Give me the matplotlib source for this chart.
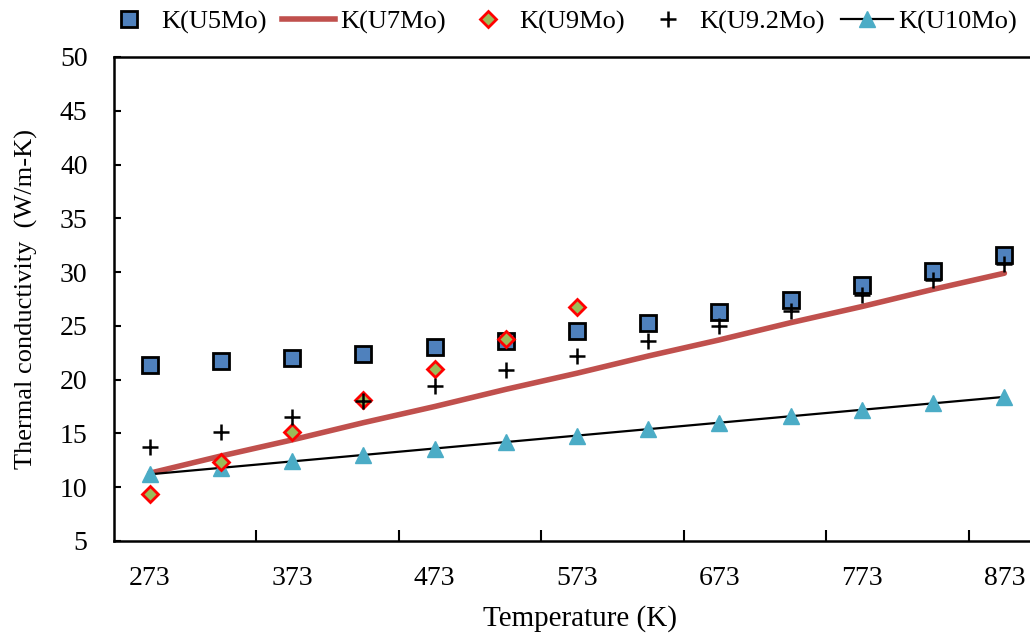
import matplotlib.pyplot as plt
from matplotlib.lines import Line2D

plt.rcParams['font.family'] = ['Liberation Serif', 'DejaVu Serif']

# temperatures (K)
temps = [273, 323, 373, 423, 473, 523, 573, 623, 673, 723, 773, 823, 873]
k_u5mo = [21.4, 21.7, 22.0, 22.4, 23.0, 23.6, 24.5, 25.3, 26.3, 27.4, 28.8, 30.1, 31.6]
k_u7mo = [11.3, 12.9, 14.4, 16.0, 17.5, 19.1, 20.6, 22.2, 23.7, 25.3, 26.8, 28.4, 29.9]
temps_u9 = [273, 323, 373, 423, 473, 523, 573]
k_u9mo = [9.4, 12.3, 15.1, 18.1, 21.0, 23.8, 26.8]
k_u92mo = [13.7, 15.1, 16.5, 18.0, 19.4, 20.9, 22.2, 23.6, 25.0, 26.4, 27.9, 29.3, 30.8]
k_u10mo = [11.2, 11.8, 12.4, 13.0, 13.6, 14.2, 14.8, 15.4, 16.0, 16.6, 17.2, 17.8, 18.4]
xtick_labels = [273, 373, 473, 573, 673, 773, 873]

fig = plt.figure(figsize=(10.3, 6.34), dpi=100)
ax = fig.add_axes([114/1030, 1-541/634, 926/1030, 484/634])

ax.plot(temps, k_u7mo, color='#C0504D', lw=4, solid_capstyle='round', zorder=2)
ax.plot(temps, k_u10mo, color='black', lw=1.6, marker='^', ms=12,
        mfc='#4BACC6', mec='#4BACC6', zorder=3)
ax.plot(temps, k_u5mo, ls='none', marker='s', ms=11.5, mfc='#4F81BD',
        mec='black', mew=2, zorder=4)
ax.plot(temps_u9, k_u9mo, ls='none', marker='D', ms=8.5, mfc='#9BBB59',
        mec='#FF0000', mew=2, zorder=5)
ax.plot(temps, k_u92mo, ls='none', marker='+', ms=12, mew=1.8,
        color='black', zorder=6)

ax.set_xlim(248, 898)
ax.set_ylim(5, 50)
ax.set_yticks(range(5, 51, 5))
ax.set_xticks(xtick_labels)
ax.set_xticklabels([str(t) for t in xtick_labels])
# category style ticks between the points
ax.set_xticks([348, 448, 548, 648, 748, 848], minor=True)
ax.tick_params(axis='x', which='major', length=0, pad=18, labelsize=20)
ax.tick_params(axis='x', which='minor', direction='in', length=8, width=1.5)
ax.tick_params(axis='y', direction='in', length=5, width=1.5, labelsize=20, pad=19)
for s in ['left', 'bottom', 'top']:
    ax.spines[s].set_linewidth(1.8)
ax.spines['right'].set_visible(False)

ax.set_xlabel('Temperature (K)', fontsize=21)
ax.set_ylabel('Thermal conductivity  (W/m-K)', fontsize=19)
ax.xaxis.set_label_coords(0.503, -0.133)
ax.yaxis.set_label_coords(-0.082, 0.5)

handles = [
    Line2D([], [], ls='none', marker='s', ms=11.5, mfc='#4F81BD', mec='black', mew=2),
    Line2D([], [], color='#C0504D', lw=4),
    Line2D([], [], ls='none', marker='D', ms=8.5, mfc='#9BBB59', mec='#FF0000', mew=2),
    Line2D([], [], ls='none', marker='+', ms=12, mew=1.8, color='black'),
    Line2D([], [], color='black', lw=1.6, marker='^', ms=12, mfc='#4BACC6', mec='#4BACC6'),
]
labels = ['K(U5Mo)', 'K(U7Mo)', 'K(U9Mo)', 'K(U9.2Mo)', 'K(U10Mo)']
fig.legend(handles, labels, loc='center', bbox_to_anchor=(560/1030, 1-22/634),
           ncol=5, frameon=False, fontsize=19, handlelength=2.0,
           handletextpad=0.2, columnspacing=0.6)

plt.savefig('out.png', dpi=100)
